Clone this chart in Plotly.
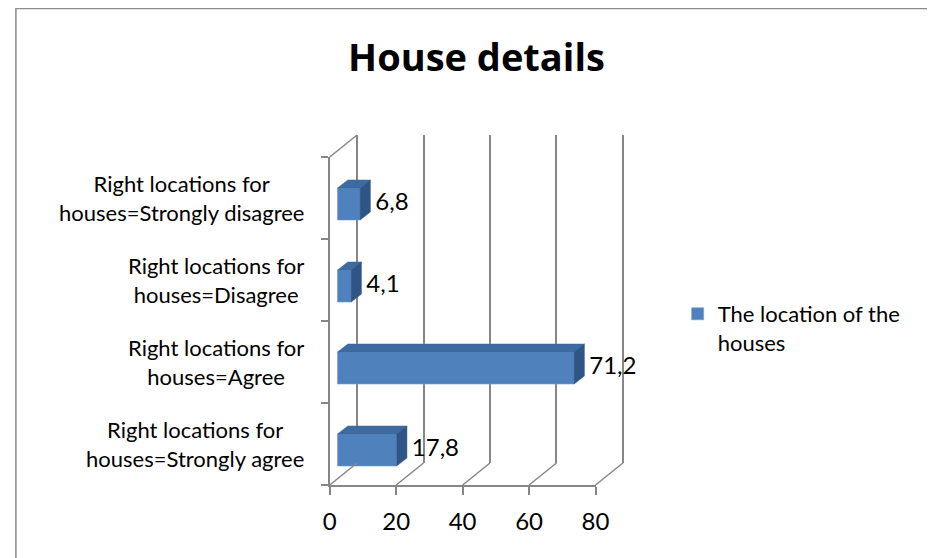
import plotly.graph_objects as go

# ---------------- data ----------------
categories = ["Strongly agree", "Agree", "Disagree", "Strongly disagree"]  # bottom -> top
values = [17.8, 71.2, 4.1, 6.8]
category_labels = ["Right locations for<br>houses=" + c for c in categories]
x_ticks = [0, 20, 40, 60, 80]
series_name = "The location of the<br>houses"
title_text = "House details"

# ---------------- geometry / style ----------------
WIN_W, WIN_H = 935, 558
OFF = 8                      # default body margin of the html page
FW, FH = WIN_W - OFF, WIN_H - OFF
FONT = "Lato"
GRID = "#868686"
FRONT = "#4f81bd"
TOP = "#3d6a9f"
SIDE = "#2f5587"

X0_PX, X80_PX = 330, 602          # front plane value axis (window px)
YB_PX, YT_PX = 485, 157           # front plane category axis
PX_PER_UNIT = (X80_PX - X0_PX) / 80.0
PX_PER_CAT = (YB_PX - YT_PX) / 4.0

WALL_DX_PX, WALL_DY_PX = 28, 22   # depth of the 3-D box
BAR_OFF_PX = (8, 6)               # bar front face offset into the box
BAR_DEPTH_PX = (10.5, 8)          # bar depth
BAR_H_PX = 32


def fx(px):
    return (px - OFF) / FW


def fy(py):
    return 1 - (py - OFF) / FH


def ux(px):
    return px / PX_PER_UNIT


def uy(py):
    return py / PX_PER_CAT


WDX, WDY = ux(WALL_DX_PX), uy(WALL_DY_PX)
BOX, BOY = ux(BAR_OFF_PX[0]), uy(BAR_OFF_PX[1])
BDX, BDY = ux(BAR_DEPTH_PX[0]), uy(BAR_DEPTH_PX[1])
BH = uy(BAR_H_PX)

fig = go.Figure()

# canvas subplot (x3/y3) spanning the whole 3-D box, same scale as the front axes
C_L, C_R, C_T, C_B = 300, 680, 110, 500
x3_range = [ux(C_L - X0_PX), ux(C_R - X0_PX)]
y3_range = [-0.5 - uy(C_B - YB_PX), -0.5 + uy(YB_PX - C_T)]

# floor diagonals and left wall top edge
for t in x_ticks:
    fig.add_trace(go.Scatter(x=[t, t + WDX], y=[-0.5, -0.5 + WDY], mode="lines",
                             line=dict(color=GRID, width=1.5), xaxis="x3", yaxis="y3",
                             showlegend=False, hoverinfo="skip"))
fig.add_trace(go.Scatter(x=[0, WDX], y=[3.5, 3.5 + WDY], mode="lines",
                         line=dict(color=GRID, width=1.5), xaxis="x3", yaxis="y3",
                         showlegend=False, hoverinfo="skip"))

# bar front faces
ys = [i - BOY for i in range(len(values))]
fig.add_trace(go.Bar(x=values, y=ys, base=BOX, orientation="h", width=BH,
                     marker=dict(color=FRONT, line=dict(color="#6f9ad0", width=0.6)),
                     name=series_name, xaxis="x3", yaxis="y3", showlegend=True,
                     hovertext=categories, hoverinfo="x+text"))

# top and side faces
for i, v in enumerate(values):
    yc = ys[i]
    xl, xr = BOX, BOX + v
    yt, yb = yc + BH / 2, yc - BH / 2
    fig.add_trace(go.Scatter(x=[xl, xl + BDX, xr + BDX, xr, xl],
                             y=[yt, yt + BDY, yt + BDY, yt, yt],
                             fill="toself", fillcolor=TOP, mode="lines",
                             line=dict(color=TOP, width=0.5), xaxis="x3", yaxis="y3",
                             showlegend=False, hoverinfo="skip"))
    fig.add_trace(go.Scatter(x=[xr, xr + BDX, xr + BDX, xr, xr],
                             y=[yt, yt + BDY, yb + BDY, yb, yt],
                             fill="toself", fillcolor=SIDE, mode="lines",
                             line=dict(color=SIDE, width=0.5), xaxis="x3", yaxis="y3",
                             showlegend=False, hoverinfo="skip"))

# data labels
fig.add_trace(go.Scatter(x=[BOX + v + BDX + ux(5) for v in values], y=ys,
                         mode="text", text=[f"{v:.1f}".replace(".", ",") for v in values],
                         textposition="middle right",
                         textfont=dict(family=FONT, size=24, color="black"),
                         xaxis="x3", yaxis="y3", showlegend=False, hoverinfo="skip",
                         cliponaxis=False))

# empty traces to instantiate the front and back-wall subplots
fig.add_trace(go.Scatter(x=[None], y=[None], xaxis="x", yaxis="y", showlegend=False, hoverinfo="skip"))
fig.add_trace(go.Scatter(x=[None], y=[None], xaxis="x2", yaxis="y2", showlegend=False, hoverinfo="skip"))

# category labels (centred multi-line text, right edge next to the axis)
for i, lab in enumerate(category_labels):
    fig.add_annotation(text=lab, xref="paper", x=fx(306), xanchor="right",
                       yref="y", y=i, yanchor="middle", align="center",
                       showarrow=False, font=dict(family=FONT, size=22, color="black"))

PAD = 0.5  # extend back-wall range so the end gridlines are drawn
fig.update_layout(
    width=FW, height=FH, margin=dict(l=0, r=0, t=0, b=0),
    paper_bgcolor="white", plot_bgcolor="rgba(0,0,0,0)",
    font=dict(family=FONT, size=22, color="black"),
    title=dict(text="<b>" + title_text + "</b>", xref="container", yref="container",
               x=(476.5 - OFF) / FW, y=1 - (58 - OFF) / FH, xanchor="center", yanchor="middle",
               font=dict(family="Open Sans", size=38, color="black")),
    # front axes
    xaxis=dict(domain=[fx(X0_PX), fx(X80_PX)], range=[0, 80], tickvals=x_ticks,
               showgrid=False, zeroline=False, showline=True, linecolor=GRID, linewidth=1.5,
               ticks="outside", ticklen=8, tickcolor=GRID, tickwidth=1.5,
               ticklabelstandoff=6,
               tickfont=dict(family=FONT, size=24, color="black"), anchor="y",
               fixedrange=True),
    yaxis=dict(domain=[fy(YB_PX), fy(YT_PX)], range=[-0.5, 3.5],
               tickvals=[-0.5, 0.5, 1.5, 2.5, 3.5], showticklabels=False,
               showgrid=False, zeroline=False, showline=True, linecolor=GRID, linewidth=1.5,
               ticks="outside", ticklen=7, tickcolor=GRID, tickwidth=1.5, anchor="x",
               fixedrange=True),
    # back wall gridlines
    xaxis2=dict(domain=[fx(X0_PX + WALL_DX_PX - PAD * PX_PER_UNIT),
                        fx(X80_PX + WALL_DX_PX + PAD * PX_PER_UNIT)],
                range=[-PAD, 80 + PAD],
                tickvals=x_ticks, showgrid=True, gridcolor=GRID, gridwidth=1.5,
                showticklabels=False, ticks="", zeroline=False, showline=False, anchor="y2",
                fixedrange=True),
    yaxis2=dict(domain=[fy(YB_PX - WALL_DY_PX), fy(YT_PX - WALL_DY_PX)], range=[-0.5, 3.5],
                visible=False, anchor="x2", fixedrange=True),
    # drawing canvas
    xaxis3=dict(domain=[fx(C_L), fx(C_R)], range=x3_range, visible=False, anchor="y3",
                fixedrange=True),
    yaxis3=dict(domain=[fy(C_B), fy(C_T)], range=y3_range, visible=False, anchor="x3",
                fixedrange=True),
    legend=dict(x=fx(686), y=fy(293), xanchor="left", yanchor="top", valign="top",
                font=dict(family=FONT, size=22, color="black"), bgcolor="rgba(0,0,0,0)",
                itemwidth=30, tracegroupgap=0),
    shapes=[dict(type="rect", xref="paper", yref="paper", x0=0.001, y0=-0.2,
                 x1=1.2, y1=0.999, line=dict(color="#8c8c8c", width=1.5),
                 fillcolor="rgba(0,0,0,0)", layer="below")],
)

fig.write_html("out.html")
